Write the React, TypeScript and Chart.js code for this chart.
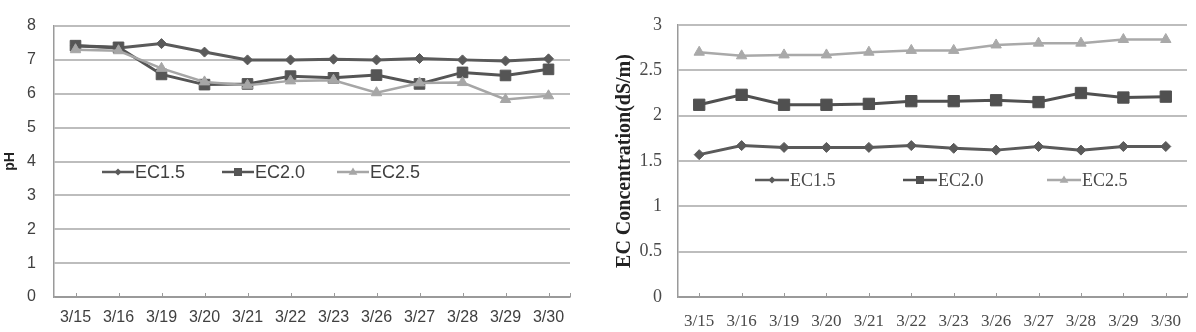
import { useEffect, useRef } from "react";
import { Chart, registerables } from "chart.js";

Chart.register(...registerables);

// Sampling dates (categories shared by both panels)
const dates = ["3/15", "3/16", "3/19", "3/20", "3/21", "3/22", "3/23", "3/26", "3/27", "3/28", "3/29", "3/30"];
const seriesNames = ["EC1.5", "EC2.0", "EC2.5"];

// Nutrient solution pH per treatment
const phEC15 = [7.42, 7.35, 7.48, 7.23, 7.0, 7.0, 7.02, 7.0, 7.04, 7.0, 6.97, 7.03];
const phEC20 = [7.42, 7.37, 6.57, 6.27, 6.29, 6.52, 6.47, 6.55, 6.29, 6.63, 6.54, 6.72];
const phEC25 = [7.3, 7.27, 6.75, 6.35, 6.25, 6.38, 6.4, 6.03, 6.32, 6.33, 5.83, 5.94];

// Measured EC concentration (dS/m) per treatment
const ecEC15 = [1.57, 1.67, 1.65, 1.65, 1.65, 1.67, 1.64, 1.62, 1.66, 1.62, 1.66, 1.66];
const ecEC20 = [2.12, 2.23, 2.12, 2.12, 2.13, 2.16, 2.16, 2.17, 2.15, 2.25, 2.2, 2.21];
const ecEC25 = [2.7, 2.66, 2.67, 2.67, 2.7, 2.72, 2.72, 2.78, 2.8, 2.8, 2.84, 2.84];

// Axis ranges
const phRange = { min: 0, max: 8, step: 1 };
const ecRange = { min: 0, max: 3, step: 0.5 };

type Marker = "rectRot" | "rect" | "triangle";

const markers: Marker[] = ["rectRot", "rect", "triangle"];

function drawMarker(ctx: CanvasRenderingContext2D, style: Marker, x: number, y: number, r: number) {
  ctx.beginPath();
  if (style === "rectRot") {
    ctx.moveTo(x, y - r);
    ctx.lineTo(x + r, y);
    ctx.lineTo(x, y + r);
    ctx.lineTo(x - r, y);
  } else if (style === "rect") {
    ctx.rect(x - r, y - r, 2 * r, 2 * r);
  } else {
    ctx.moveTo(x, y - r * 1.1);
    ctx.lineTo(x + r * 1.1, y + r * 0.7);
    ctx.lineTo(x - r * 1.1, y + r * 0.7);
  }
  ctx.closePath();
  ctx.fill();
}

// Legend drawn inside the plot area, one entry per dataset
const insideLegend = {
  id: "insideLegend",
  afterDatasetsDraw(chart: any, _args: any, opts: any) {
    const ctx: CanvasRenderingContext2D = chart.ctx;
    ctx.save();
    chart.data.datasets.forEach((ds: any, i: number) => {
      const it = opts.items[i];
      const color = ds.borderColor;
      ctx.strokeStyle = color;
      ctx.fillStyle = color;
      ctx.lineWidth = 2.5;
      ctx.beginPath();
      ctx.moveTo(it.x, it.y);
      ctx.lineTo(it.x + opts.lineLen, it.y);
      ctx.stroke();
      drawMarker(ctx, markers[i], it.x + opts.lineLen / 2, it.y, opts.markerSize[i]);
      ctx.fillStyle = opts.textColor;
      ctx.font = opts.font;
      ctx.textBaseline = "middle";
      ctx.textAlign = "left";
      ctx.fillText(ds.label, it.x + opts.lineLen + 1, it.y + 1);
    });
    ctx.restore();
  },
};

// Short tick marks pointing up from the category axis
const innerTicks = {
  id: "innerTicks",
  beforeDatasetsDraw(chart: any, _args: any, opts: any) {
    const x = chart.scales.x;
    const ctx: CanvasRenderingContext2D = chart.ctx;
    const bottom = chart.chartArea.bottom;
    ctx.save();
    ctx.strokeStyle = opts.color;
    ctx.lineWidth = 1;
    const xs: number[] = [];
    for (let i = 0; i < dates.length; i++) xs.push(x.getPixelForTick(i));
    xs.push(chart.chartArea.right);
    xs.forEach((px) => {
      ctx.beginPath();
      ctx.moveTo(Math.round(px) + 0.5, bottom);
      ctx.lineTo(Math.round(px) + 0.5, bottom - 4);
      ctx.stroke();
    });
    ctx.restore();
  },
};

type PanelProps = {
  width: number;
  height: number;
  series: number[][];
  colors: string[];
  radii: number[];
  range: { min: number; max: number; step: number };
  padding: { top: number; right: number };
  axisWidth: number;
  axisHeight: number;
  family: string;
  tickSize: number;
  xTickSize: number;
  tickColor: string;
  yTickPadding: number;
  xTickPadding: number;
  title: string;
  titleSize: number;
  titlePad: number;
  legendFont: string;
  legendItems: { x: number; y: number }[];
  legendLineLen: number;
  gridColor: string;
  axisColor: string;
};

function Panel(p: PanelProps) {
  const ref = useRef<HTMLCanvasElement | null>(null);

  useEffect(() => {
    if (!ref.current) return;
    const chart = new Chart(ref.current, {
      type: "line",
      data: {
        labels: dates,
        datasets: p.series.map((vals, i) => ({
          label: seriesNames[i],
          data: vals,
          borderColor: p.colors[i],
          backgroundColor: p.colors[i],
          pointBackgroundColor: p.colors[i],
          pointBorderColor: p.colors[i],
          pointStyle: markers[i],
          pointRadius: p.radii[i],
          pointBorderWidth: 1,
          borderWidth: i === 2 ? 2.5 : 3,
          tension: 0,
          order: 3 - i,
        })),
      },
      options: {
        responsive: false,
        animation: false,
        devicePixelRatio: 1,
        layout: { padding: { top: p.padding.top, right: p.padding.right, left: 0, bottom: 0 } },
        plugins: {
          legend: { display: false },
          tooltip: { enabled: false },
          insideLegend: {
            items: p.legendItems,
            lineLen: p.legendLineLen,
            font: p.legendFont,
            textColor: p.tickColor,
            markerSize: [3.5, 4, 4],
          },
          innerTicks: { color: p.axisColor },
        } as any,
        scales: {
          x: {
            offset: true,
            grid: { display: true, drawOnChartArea: false, drawTicks: false },
            border: { color: p.axisColor, width: 1.5 },
            ticks: {
              font: { family: p.family, size: p.xTickSize },
              color: p.tickColor,
              padding: p.xTickPadding,
              maxRotation: 0,
              autoSkip: false,
            },
            afterFit: (s: any) => {
              s.height = p.axisHeight;
            },
          },
          y: {
            min: p.range.min,
            max: p.range.max,
            ticks: {
              stepSize: p.range.step,
              font: { family: p.family, size: p.tickSize, lineHeight: 1 },
              color: p.tickColor,
              padding: p.yTickPadding,
              callback: (v: any) => String(Number(v)),
            },
            grid: {
              drawTicks: false,
              lineWidth: 2,
              color: (c: any) => (c.tick && c.tick.value === p.range.min ? p.axisColor : p.gridColor),
            },
            border: { color: p.axisColor, width: 1.5 },
            title: {
              display: true,
              text: p.title,
              color: "#222",
              font: { family: p.family, size: p.titleSize, weight: "bold" },
              padding: { top: p.titlePad, bottom: 0 },
            },
            afterFit: (s: any) => {
              s.width = p.axisWidth;
            },
          },
        },
      },
      plugins: [insideLegend, innerTicks],
    } as any);
    return () => chart.destroy();
  }, []);

  return <canvas ref={ref} width={p.width} height={p.height} style={{ display: "block" }} />;
}

export default function App() {
  return (
    <div
      style={{
        position: "fixed",
        left: 0,
        top: 0,
        width: 1196,
        height: 332,
        background: "#fff",
        display: "flex",
      }}
    >
      <Panel
        width={590}
        height={332}
        series={[phEC15, phEC20, phEC25]}
        colors={["#5a5a5a", "#555555", "#a6a6a6"]}
        radii={[5, 7.5, 6]}
        range={phRange}
        padding={{ top: 8, right: 20 }}
        axisWidth={54}
        axisHeight={35}
        family="'Liberation Sans', Arial, sans-serif"
        tickSize={16}
        xTickSize={16}
        tickColor="#404040"
        yTickPadding={18}
        xTickPadding={11}
        title="pH"
        titleSize={14}
        titlePad={2}
        legendFont="18px 'Liberation Sans', Arial, sans-serif"
        legendItems={[
          { x: 102, y: 172 },
          { x: 222, y: 172 },
          { x: 337, y: 172 },
        ]}
        legendLineLen={32}
        gridColor="#bdbdbd"
        axisColor="#9a9a9a"
      />
      <Panel
        width={606}
        height={332}
        series={[ecEC15, ecEC20, ecEC25]}
        colors={["#5a5a5a", "#505050", "#a9a9a9"]}
        radii={[5, 8, 6]}
        range={ecRange}
        padding={{ top: 7, right: 9 }}
        axisWidth={88}
        axisHeight={35}
        family="'Liberation Serif', 'Times New Roman', serif"
        tickSize={18}
        xTickSize={17}
        tickColor="#4a4a4a"
        yTickPadding={16}
        xTickPadding={14}
        title="EC Concentration(dS/m)"
        titleSize={20}
        titlePad={23}
        legendFont="18px 'Liberation Serif', 'Times New Roman', serif"
        legendItems={[
          { x: 165, y: 180 },
          { x: 313, y: 180 },
          { x: 457, y: 180 },
        ]}
        legendLineLen={34}
        gridColor="#bdbdbd"
        axisColor="#9a9a9a"
      />
    </div>
  );
}
